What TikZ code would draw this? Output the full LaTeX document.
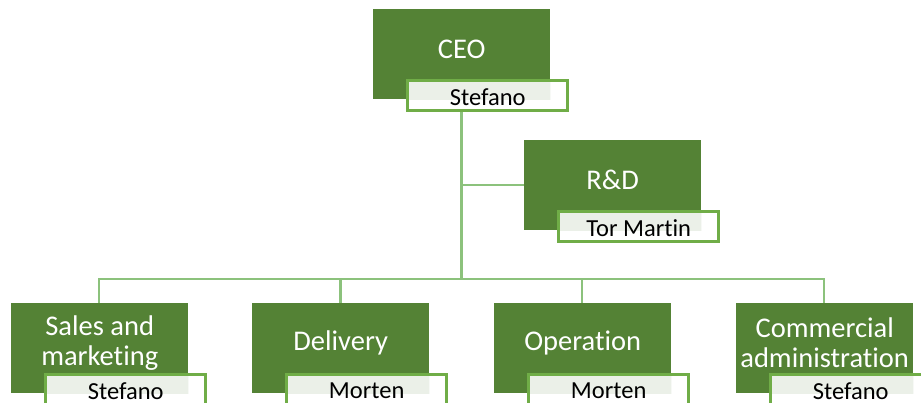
\documentclass[tikz,border=0pt]{standalone}
\usepackage{fontspec}
\setmainfont{Carlito}[RawFeature={-liga;-clig;-dlig}]
\definecolor{dkgreen}{HTML}{548235}
\definecolor{nmborder}{HTML}{70AD47}
\definecolor{conncol}{HTML}{8CC27C}
\definecolor{overlap}{HTML}{EBF0E8}
\tikzset{
  mainbox/.style={fill=dkgreen, draw=none, minimum width=177pt, minimum height=90pt, anchor=north west, inner sep=0pt},
  namebox/.style={fill=white, draw=none, minimum width=160pt, minimum height=30pt, anchor=north west, inner sep=0pt},
  titletext/.style={text=white, font=\fontsize{28.5}{30}\selectfont, align=center, inner sep=0pt},
  nametext/.style={text=black, font=\fontsize{24.5}{26}\selectfont, inner sep=0pt},
  conn/.style={draw=conncol, line width=2.8pt},
}
\newcommand{\orgunit}[5]{%
  % #1 name, #2 x, #3 y (top), #4 title, #5 person
  \node[mainbox] (#1) at (#2,#3) {};
  \node[namebox] (#1n) at ([xshift=34.5pt,yshift=-71.5pt]#1.north west) {};
  \begin{scope}
    \clip (#1.south west) rectangle (#1.north east);
    \fill[overlap] (#1n.south west) rectangle (#1n.north east);
  \end{scope}
  \draw[nmborder, line width=3pt] (#1n.south west) rectangle (#1n.north east);
  \node[titletext] (#1t) at ([yshift=-40pt]#1.north) {#4};
  \node[nametext] (#1p) at ([yshift=-1pt]#1n.center) {#5};
}
\begin{document}
\begin{tikzpicture}[x=1pt,y=-1pt]
\useasboundingbox[fill=white] (0,0) rectangle (921,403);
% connectors (drawn first)
\coordinate (bus) at (461.5,279);
\coordinate (ceobot) at (461.5,99);
\coordinate (rdleft) at (524,185);
\coordinate (salestop) at (99,303);
\coordinate (deltop) at (340.5,303);
\coordinate (optop) at (582,303);
\coordinate (commtop) at (824,303);
\draw[conn] (ceobot) -- (bus);
\draw[conn] (ceobot |- rdleft) -- (rdleft);
\draw[conn] (salestop) |- (bus) -| (commtop);
\draw[conn] (bus -| deltop) -- (deltop);
\draw[conn] (bus -| optop) -- (optop);
% units
\orgunit{ceo}{373}{9}{CEO}{Stefano}
\orgunit{rd}{524}{140}{R\&D}{Tor Martin}
\orgunit{sales}{11}{303}{Sales and\\marketing}{Stefano}
\orgunit{del}{252}{303}{Delivery}{Morten}
\orgunit{op}{494}{303}{Operation}{Morten}
\orgunit{comm}{736}{303}{Commercial\\administration}{Stefano}
\end{tikzpicture}
\end{document}
